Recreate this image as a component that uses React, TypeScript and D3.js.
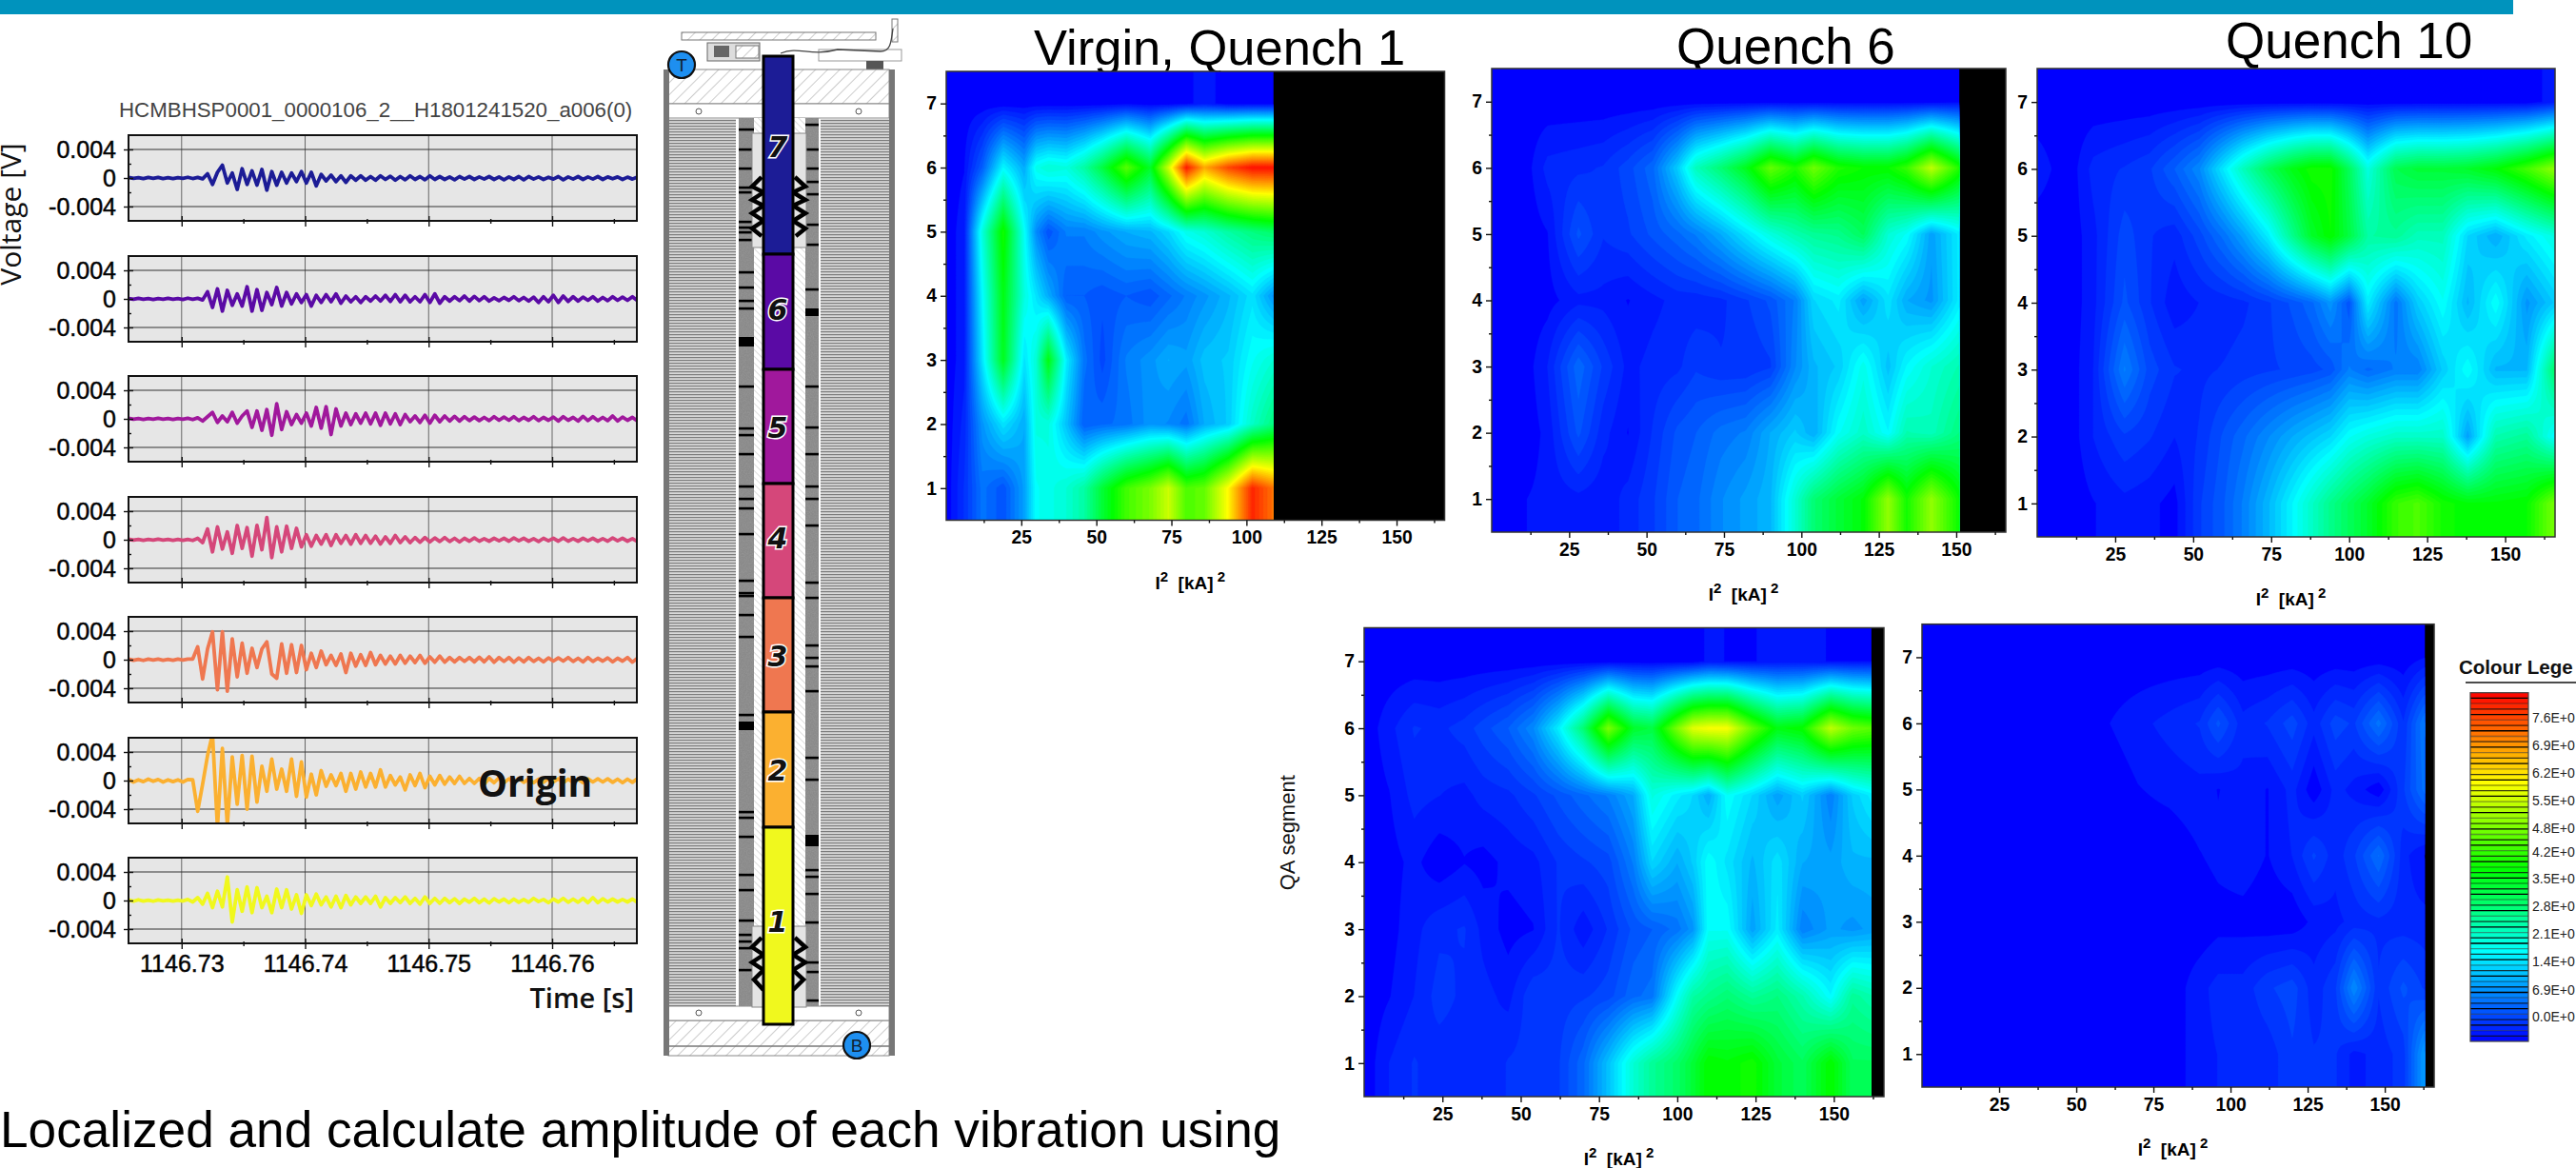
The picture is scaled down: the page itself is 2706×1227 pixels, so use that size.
import React, { useEffect, useMemo, useRef } from 'react';
import * as d3 from 'd3';

// ---- waveforms: voltage in mV, one sample every 0.4 ms from timeStart ----
const timeStart = 1146.7257;
const timeEnd = 1146.76686;
const timeStep = 0.0004;
const timeTicks = [1146.73, 1146.74, 1146.75, 1146.76];
const timeMinorTicks = [1146.735, 1146.745, 1146.755, 1146.765];
const voltTicks = [0.004, 0, -0.004];
const voltMinorTicks = [0.002, -0.002];

const wave7 = [
  .08,-.06,.05,-.09,.07,-.05,.09,-.07,.04,-.08,.06,-.04,.1,-.07,.08,-.12,
  .6,-.9,.8,1.8,-.7,.7,-1.6,1.3,-.9,1.0,-1.0,1.2,-1.7,.9,-1.0,.8,
  -.7,.7,-.5,.9,-.7,.8,-1.1,.5,-.4,.4,-.5,.3,-.6,.3,-.3,.3,
  -.3,.2,-.3,.3,-.2,.25,-.3,.2,-.25,.3,-.2,.2,-.25,.3,-.2,.2,
  -.2,.15,-.25,.2,-.15,.2,-.2,.15,-.15,.2,-.2,.15,-.25,.15,-.2,.2,
  -.25,.2,-.15,.15,-.2,.1,-.15,.2,-.25,.15,-.15,.2,-.2,.15,-.15,.2,
  -.2,.15,-.1,.15,-.2,.12,-.15,.15,-.1,.18,-.15,.12,-.18,.12,-.1,.15,
  -.15,.1,-.18,.15,-.12,.1,-.15,.2,-.12,.1,-.15,.18,-.1,.12,-.15,.1,
];
const wave6 = [
  .06,-.05,.08,-.06,.05,-.07,.06,-.05,.09,-.06,.05,-.08,.1,-.06,.08,-.15,
  1.0,-1.2,1.4,-1.7,1.2,-.9,.7,-1.0,1.7,-1.7,1.3,-1.6,.9,-.8,1.6,-1.0,
  .9,-.7,.7,-.5,.6,-1.0,.5,-.5,.6,-.4,.7,-.6,.4,-.4,.3,-.5,
  .3,-.3,.4,-.3,.5,-.35,.6,-.4,.5,-.4,.3,-.4,.6,-.5,.7,-.6,
  .3,-.3,.3,-.25,.4,-.3,.35,-.25,.3,-.3,.15,-.25,.2,-.2,.3,-.25,
  .2,-.3,.25,-.5,.3,-.4,.5,-.5,.4,-.35,.3,-.3,.25,-.2,.3,-.3,
  .2,-.25,.3,-.2,.25,-.2,.3,-.25,.15,-.25,.2,-.15,.25,-.2,.15,-.2,
  .2,-.15,.25,-.2,.15,-.2,.2,-.15,.15,-.2,.2,-.15,.12,-.15,.2,-.12,
];
const wave5 = [
  .08,-.06,.05,-.07,.06,-.05,.07,-.06,.05,-.08,.06,-.05,.08,-.1,.15,-.3,
  .3,.9,-.5,.4,-.4,.9,-.6,.4,1.1,-1.2,1.1,-1.6,1.3,-2.3,2.1,-1.5,
  1.0,-.8,.6,-.6,.8,-1.0,1.6,-1.3,1.7,-2.2,1.4,-1.0,.8,-.8,.7,-.6,
  .8,-.7,.8,-.9,.8,-.7,.7,-.8,.6,-.4,.4,-.5,.5,-.6,.5,-.4,
  .4,-.3,.35,-.3,.3,-.25,.25,-.25,.2,-.25,.3,-.2,.25,-.2,.3,-.25,
  .2,-.2,.3,-.25,.2,-.2,.25,-.3,.3,-.2,.2,-.3,.35,-.25,.3,-.25,
  .2,-.25,.4,-.3,.25,-.2,.2,-.3,.3,-.3,.25,-.25,.2,-.2,.3,-.25,
  .2,-.25,.3,-.2,.15,-.2,.2,-.25,.3,-.15,.15,-.2,.3,-.3,.3,-.25,
];
const wave4 = [
  .07,-.06,.06,-.08,.05,-.06,.08,-.05,.06,-.07,.05,-.08,.06,-.1,.2,-.4,
  1.5,-1.7,1.8,-1.3,1.1,-1.9,2.0,-1.2,1.7,-2.3,2.0,-1.4,3.1,-2.5,1.8,-1.7,
  1.9,-1.2,1.6,-1.0,.7,-.9,.6,-.6,.7,-.8,.7,-.5,.6,-.6,.7,-.5,
  .6,-.5,.5,-.6,.4,-.5,.6,-.4,.4,-.4,.3,-.35,.3,-.3,.25,-.25,
  .3,-.25,.2,-.3,.2,-.2,.25,-.2,.15,-.2,.2,-.15,.2,-.2,.25,-.15,
  .2,-.2,.15,-.25,.2,-.15,.2,-.2,.25,-.2,.15,-.2,.2,-.15,.2,-.2,
  .15,-.2,.25,-.15,.2,-.2,.15,-.25,.2,-.15,.15,-.2,.25,-.2,.15,-.15,
  .2,-.15,.2,-.25,.15,-.2,.2,-.15,.15,-.2,.25,-.15,.2,-.2,.15,-.15,
];
const wave3 = [
  .1,-.08,.06,-.1,.08,-.06,.09,-.07,.05,-.09,.07,-.06,.08,.1,1.8,-2.7,
  1.5,3.9,-4.2,3.9,-4.4,2.9,-2.4,2.3,-1.9,1.6,-1.1,1.5,2.5,-2.0,-2.6,2.2,
  -1.9,2.1,-1.8,2.0,-1.4,.9,-1.1,1.2,-.7,.6,-.8,.8,-1.8,.9,-.9,.7,
  -.8,1.0,-.7,.6,-.6,.5,-.6,.6,-.5,.5,-.4,.6,-.5,.4,-.35,.5,
  -.35,.3,-.3,.3,-.25,.3,-.3,.35,-.3,.4,-.35,.3,-.25,.3,-.35,.25,
  -.3,.3,-.25,.2,-.3,.25,-.2,.25,-.2,.3,-.25,.2,-.3,.3,-.25,.2,
  -.2,.25,-.3,.2,-.2,.3,-.35,.2,-.2,.25,-.2,.2,-.25,.3,-.2,.2,
  -.2,.25,-.2,.2,-.25,.3,-.2,.25,-.2,.35,-.3,.2,-.25,.3,-.25,.2,
];
const wave2 = [
  .15,-.2,.1,-.15,.2,-.1,.15,-.2,.1,-.15,.1,-.2,.15,.1,-4.3,-.5,
  3.5,6.5,-6.5,4.5,-6.2,3.3,-3.3,3.5,-4.0,3.4,-3.0,2.0,-1.5,3.0,-1.2,1.6,
  -1.5,3.0,-2.2,2.6,-2.3,.9,-2.0,1.4,-.8,.8,-.7,1.0,-1.5,1.0,-1.2,1.2,
  -.9,1.0,-.9,1.5,-.9,.7,-.6,.5,-1.3,.8,-.7,1.0,-1.0,.6,-.6,.7,
  -.5,.5,-.4,.6,-.4,.3,-.4,.3,-.5,.3,-.3,.4,-.3,.25,-.3,.3,
  -.25,.25,-.3,.2,-.25,.3,-.2,.25,-.3,.2,-.25,.2,-.3,.25,-.2,.25,
  -.2,.25,-.25,.2,-.3,.2,-.25,.25,-.2,.3,-.25,.2,-.2,.25,-.2,.2,
  -.25,.2,-.2,.25,-.25,.2,-.2,.3,-.25,.2,-.2,.25,-.3,.2,-.2,.25,
];
const wave1 = [
  .08,-.1,.1,-.08,.06,-.1,.08,-.06,.05,-.08,.06,-.07,.15,-.2,.4,-.5,
  1.0,-1.0,1.3,-.9,3.3,-3.0,1.5,-1.5,1.9,-1.7,1.8,-1.0,.6,-1.7,1.6,-1.0,
  1.5,-1.2,.8,-1.8,.8,-.7,.9,-.6,.5,-.9,.6,-1.0,.7,-.6,.5,-.4,
  .5,-.4,.6,-.9,.4,-.4,.4,-.3,.5,-.4,.3,-.5,.5,-.4,.3,-.4,
  .3,-.3,.25,-.4,.2,-.25,.3,-.3,.2,-.35,.25,-.2,.2,-.3,.2,-.25,
  .15,-.25,.3,-.15,.15,-.3,.2,-.2,.3,-.25,.2,-.25,.3,-.3,.4,-.3,
  .25,-.2,.2,-.2,.15,-.2,.2,-.25,.25,-.2,.2,-.15,.15,-.2,.2,-.15,
  .15,-.2,.2,-.15,.2,-.25,.15,-.15,.2,-.2,.15,-.15,.2,-.15,.12,-.15,
];
const waves = [wave7, wave6, wave5, wave4, wave3, wave2, wave1];
const segmentColors = ['#1c1c96', '#5a0aa5', '#a0189c', '#d5477a', '#ef7750', '#fbb030', '#f0f81e'];
const segmentLabels = ['7', '6', '5', '4', '3', '2', '1'];

// ---- heat maps: colour legend units, rows are QA segment 1..7 ----
const q1Cols = [0, 6, 12, 19, 26, 30, 34, 40, 46, 52, 60, 68, 74, 80, 86, 94, 102, 109];
const q1Rows = [
  [-.6,-.2,.4,.1,.8,1.7,1.8,2.0,2.4,3.3,4.3,4.8,5.5,4.4,4.6,6.0,7.9,7.2],
  [-.6,-.3,.7,1.4,.9,1.9,1.9,1.1,.2,.3,.4,.7,.6,.4,.9,1.2,2.1,2.7],
  [-.6,-.4,1.4,3.5,1.4,2.0,3.6,1.5,.4,0,.5,.7,.9,.8,1.1,1.2,1.7,2.0],
  [-.6,-.4,1.6,3.6,1.9,1.4,.9,.2,.2,.1,.2,.1,.3,.5,.7,1.0,1.4,.7],
  [-.6,-.4,1.9,3.9,1.7,.6,.1,.5,.5,.7,.9,1.0,1.3,1.8,2.0,2.4,2.7,2.9],
  [-.6,-.5,.2,1.6,.9,1.8,2.0,1.9,2.4,3.2,4.5,3.4,5.5,8.0,6.7,7.6,8.1,8.1],
  [-.6,-.6,-.6,-.6,-.6,-.6,-.6,-.6,-.6,-.6,-.55,-.6,-.6,-.55,-.4,-.6,-.6,-.6],
];
const q6Cols = [0, 10, 18, 28, 36, 44, 52, 60, 66, 74, 82, 90, 98, 104, 112, 120, 128, 134, 142, 151];
const q6Rows = [
  [-.6,-.5,-.45,-.4,-.45,-.3,-.1,.2,.3,.6,.8,1.0,2.0,2.8,3.3,3.7,5.0,3.9,5.0,3.8],
  [-.6,-.6,-.45,.1,-.3,-.5,-.2,.1,.2,.4,.5,.9,1.2,.9,1.7,2.1,1.6,2.3,2.2,2.7],
  [-.6,-.6,-.35,.3,-.1,-.4,-.3,-.25,-.1,-.2,-.2,-.1,.6,1.0,1.2,1.8,1.1,1.6,2.0,2.3],
  [-.6,-.6,-.55,-.4,-.4,-.5,-.4,-.3,-.3,-.25,-.1,.1,.5,1.3,1.5,.8,1.4,.9,.7,1.5],
  [-.6,-.6,-.5,.1,-.2,-.1,.1,.3,.5,.9,1.4,1.9,2.3,2.5,2.6,3.0,2.0,1.7,.8,1.5],
  [-.6,-.6,-.3,-.25,-.2,0,.3,1.2,2.2,2.8,3.5,4.6,4.0,4.7,4.0,3.8,3.8,4.2,5.4,4.0],
  [-.6,-.6,-.6,-.6,-.6,-.6,-.6,-.6,-.6,-.6,-.6,-.6,-.6,-.6,-.6,-.6,-.6,-.6,-.6,-.55],
];
const q10Cols = [0, 10, 18, 28, 36, 44, 52, 60, 66, 74, 82, 88, 94, 100, 106, 115, 122, 130, 138, 147, 157, 166];
const q10Rows = [
  [-.6,-.6,-.5,-.4,-.45,-.55,-.1,.2,.5,1.0,1.6,2.1,2.6,3.0,3.4,4.2,4.4,3.9,3.7,3.7,3.8,4.8],
  [-.6,-.6,-.35,-.1,-.2,-.35,-.2,.1,.3,.6,.9,1.1,1.3,1.7,1.9,2.1,2.1,2.1,.8,2.3,2.5,1.6],
  [-.6,-.6,-.35,.5,0,-.2,-.25,-.2,-.15,-.1,-.05,0,.1,.5,.3,.5,.5,1.2,1.7,1.0,1.0,2.9],
  [-.6,-.6,-.4,.1,-.2,-.45,-.35,-.3,-.25,-.1,.1,.3,.7,.1,1.5,.4,1.2,1.7,1.0,1.7,.7,1.2],
  [-.6,-.6,-.4,0,-.2,-.3,0,.4,.8,1.5,2.6,3.4,3.8,3.2,2.4,2.5,2.2,2.2,1.3,.9,1.5,1.9],
  [-.4,-.6,-.3,-.2,-.1,.2,.6,1.5,2.2,3.0,3.6,3.9,3.9,3.0,1.9,3.1,3.3,3.3,3.4,3.7,4.3,5.0],
  [-.6,-.6,-.6,-.6,-.6,-.6,-.6,-.6,-.6,-.6,-.6,-.6,-.6,-.6,-.6,-.6,-.6,-.6,-.6,-.6,-.6,-.4],
];
const q4Cols = [0, 8, 16, 24, 32, 38, 46, 54, 62, 70, 78, 86, 92, 100, 105, 110, 116, 124, 132, 140, 149, 156, 162];
const q4Rows = [
  [-.6,-.35,-.2,-.3,-.3,-.35,-.2,-.15,-.1,.3,1.1,2.0,2.5,2.9,3.3,3.8,3.7,3.9,3.3,3.0,3.8,3.0,3.0],
  [-.6,-.5,-.35,-.15,-.25,-.3,-.4,-.1,-.15,-.1,0,.3,.4,1.7,2.4,2.6,2.8,2.5,2.7,2.3,1.6,2.5,2.3],
  [-.6,-.55,-.4,-.25,-.2,-.4,-.55,-.5,-.2,-.45,-.2,.1,.2,.4,.7,1.7,1.7,.8,1.5,.5,.8,.7,.8],
  [-.6,-.55,-.45,-.6,-.5,-.55,-.45,-.4,-.2,-.1,0,.5,1.3,.9,1.2,1.7,1.4,1.0,1.4,.9,.8,1.0,1.0],
  [-.6,-.5,-.3,-.35,-.4,-.3,-.25,-.1,.1,.3,.5,.9,1.9,1.5,1.3,.9,1.7,1.3,.8,1.2,.5,1.2,1.5],
  [-.6,-.4,-.2,-.25,-.15,0,.2,.6,1.5,2.8,4.8,3.4,3.2,4.8,5.7,5.9,5.9,4.6,3.6,3.8,5.4,4.7,4.5],
  [-.6,-.6,-.6,-.6,-.6,-.6,-.6,-.6,-.6,-.6,-.6,-.6,-.6,-.6,-.6,-.45,-.5,-.5,-.45,-.45,-.5,-.5,-.5],
];
const q5Cols = [0, 60, 70, 80, 90, 96, 104, 112, 120, 127, 134, 140, 148, 156, 163];
const q5Rows = [
  [-.6,-.6,-.6,-.6,-.4,-.35,-.35,-.3,-.1,-.2,-.2,-.4,-.3,-.15,.8],
  [-.6,-.6,-.6,-.6,-.4,-.3,-.3,-.1,0,-.3,-.1,.6,-.2,.1,-.1],
  [-.6,-.6,-.6,-.6,-.6,-.55,-.55,-.6,-.6,-.45,-.4,-.3,-.25,-.3,-.3],
  [-.6,-.6,-.6,-.6,-.5,-.45,-.4,-.5,-.35,-.05,-.3,-.1,.35,-.3,-.5],
  [-.6,-.6,-.5,-.45,-.4,-.5,-.4,-.5,-.3,-.6,-.3,-.4,-.6,-.1,.4],
  [-.6,-.5,-.4,-.3,-.2,.1,-.3,-.2,0,-.3,0,-.1,.4,-.2,.5],
  [-.6,-.6,-.6,-.6,-.6,-.6,-.6,-.6,-.6,-.6,-.6,-.6,-.6,-.6,-.5],
];
const currentMax = 166;
const currentTicks = [25, 50, 75, 100, 125, 150];
const currentMinorTicks = [12.5, 37.5, 62.5, 87.5, 112.5, 137.5, 162.5];
const segmentTicks = [1, 2, 3, 4, 5, 6, 7];
const segmentMinorTicks = [1.5, 2.5, 3.5, 4.5, 5.5, 6.5];

// ---- legend ----
const legendValues = [7.6, 6.9, 6.2, 5.5, 4.8, 4.2, 3.5, 2.8, 2.1, 1.4, 0.69, 0];
const legendLabels = ['7.6E+0', '6.9E+0', '6.2E+0', '5.5E+0', '4.8E+0', '4.2E+0', '3.5E+0', '2.8E+0', '2.1E+0', '1.4E+0', '6.9E+0', '0.0E+0'];
const legendMin = -0.63;
const legendMax = 8.24;
const legendBands = 64;
const rainbow = d3.scaleLinear<string>()
  .domain([legendMin, 1.65, 3.75, 5.95, legendMax])
  .range(['#0000ff', '#00ffff', '#00ff00', '#ffff00', '#ff0000'])
  .clamp(true);
const bandEdges = d3.range(legendBands).map(i => legendMin + i * (legendMax - legendMin) / legendBands);
const bandSize = (legendMax - legendMin) / legendBands;

// ---- magnet drawing, heights of the parts ----
const segmentEdges = [59, 267, 388, 508, 628, 748, 869, 1076];
const segmentLabelY = [154, 325, 449, 565, 689, 809, 968];
const leftCollarMarks = [136,157,177,197,202,233,239,244,252,286,302,316,324,361,406,450,457,477,511,524,534,561,610,623,626,646,669,751,763,853,859,879,919,935,967,982,989,996,1019];
const rightCollarMarks = [131,157,177,191,204,236,257,304,329,406,449,477,511,524,552,612,628,678,691,700,726,796,819,884,914,921,939,969,1011,1021,1051];

const SANS = '"Liberation Sans", Arial, sans-serif';
const OPEN = '"Open Sans", sans-serif';

const Axis = ({ make, transform, font, size, weight, heavy }: any) => {
  const ref = useRef<SVGGElement>(null);
  useEffect(() => {
    const g = d3.select(ref.current);
    g.call(make);
    g.select('.domain').remove();
    g.attr('font-family', font || SANS).attr('font-size', size || 10).attr('font-weight', weight || 'normal');
    g.selectAll('line').attr('stroke', '#111').attr('stroke-width', 1.4);
    if (heavy) g.selectAll('text').attr('stroke', '#111').attr('stroke-width', heavy);
  }, []);
  return <g ref={ref} transform={transform} />;
};

const WavePanel = ({ values, color, top, last, id }: any) => {
  const left = 135, right = 669, height = 90;
  const x = d3.scaleLinear().domain([timeStart, timeEnd]).range([left, right]);
  const y = d3.scaleLinear().domain([-0.006, 0.006]).range([top + height, top]);
  const line = d3.line<number>()
    .x((_, i) => x(timeStart + i * timeStep))
    .y(d => y(d / 1000));
  const tickStyle = { font: SANS, size: 25, weight: 'normal', heavy: 0.5 };
  return (
    <g>
      <clipPath id={id}><rect x={left} y={top} width={right - left} height={height} /></clipPath>
      <rect x={left} y={top} width={right - left} height={height} fill="#e6e6e6" />
      {timeTicks.map(t => <line key={t} x1={x(t)} x2={x(t)} y1={top} y2={top + height} stroke="#666" strokeWidth={1} />)}
      {voltTicks.filter(v => v !== 0).map(v => <line key={v} x1={left} x2={right} y1={y(v)} y2={y(v)} stroke="#333" strokeWidth={1} />)}
      <path d={line(values) || ''} fill="none" stroke={color} strokeWidth={3.8} strokeLinejoin="round" clipPath={`url(#${id})`} />
      <rect x={left} y={top} width={right - left} height={height} fill="none" stroke="#111" strokeWidth={2} />
      <Axis {...tickStyle} transform={`translate(${left},0)`}
        make={d3.axisLeft(y).tickValues(voltTicks).tickSize(5).tickPadding(8).tickFormat(d => (+d === 0 ? '0' : (+d).toFixed(3)))} />
      <Axis transform={`translate(${left},0)`} make={d3.axisRight(y).tickValues(voltTicks).tickSize(5).tickFormat(() => '')} />
      <Axis transform={`translate(${left},0)`} make={d3.axisRight(y).tickValues(voltMinorTicks).tickSize(3).tickFormat(() => '')} />
      <Axis {...tickStyle} transform={`translate(0,${top + height})`}
        make={d3.axisBottom(x).tickValues(timeTicks).tickSize(6).tickPadding(6).tickFormat(d => (last ? (+d).toFixed(2) : ''))} />
      <Axis transform={`translate(0,${top + height})`} make={d3.axisTop(x).tickValues(timeTicks).tickSize(5).tickFormat(() => '')} />
      <Axis transform={`translate(0,${top + height})`} make={d3.axisBottom(x).tickValues(timeMinorTicks).tickSize(3).tickFormat(() => '')} />
      <Axis transform={`translate(0,${top + height})`} make={d3.axisTop(x).tickValues(timeMinorTicks).tickSize(2).tickFormat(() => '')} />
    </g>
  );
};

// bilinear lookup in the hand read table, rows held flat beyond segment 1 and 7
const lookup = (cols: number[], rows: number[][], xv: number, yv: number) => {
  const r = Math.min(7, Math.max(1, yv)) - 1;
  const r0 = Math.min(5, Math.floor(r));
  const fr = r - r0;
  let c = d3.bisectRight(cols, xv) - 1;
  c = Math.max(0, Math.min(cols.length - 2, c));
  const fc = Math.min(1, (xv - cols[c]) / (cols[c + 1] - cols[c]));
  const a = rows[r0][c] * (1 - fc) + rows[r0][c + 1] * fc;
  const b = rows[r0 + 1][c] * (1 - fc) + rows[r0 + 1][c + 1] * fc;
  return a * (1 - fr) + b * fr;
};

const HeatPanel = ({ cols, rows, left, right, top, bottom, id, yTitle }: any) => {
  const end = cols[cols.length - 1];
  const x = d3.scaleLinear().domain([0, currentMax]).range([left, right]);
  const y = d3.scaleLinear().domain([0.5, 7.5]).range([bottom, top]);
  const bands = useMemo(() => {
    const nx = Math.round(end * 2) + 1;
    const ny = 113;
    const values: number[] = [];
    for (let j = 0; j < ny; j++) {
      for (let i = 0; i < nx; i++) {
        values.push(lookup(cols, rows, (i / (nx - 1)) * end, 7.5 - (j / (ny - 1)) * 7));
      }
    }
    const project = d3.geoTransform({
      point(px, py) {
        this.stream.point(x(((px - 0.5) / (nx - 1)) * end), y(7.5 - ((py - 0.5) / (ny - 1)) * 7));
      },
    });
    const path = d3.geoPath(project);
    return d3.contours().size([nx, ny]).thresholds(bandEdges.slice(1))(values)
      .map(c => ({ d: path(c as any) || '', fill: rainbow(c.value + bandSize / 2) }));
  }, []);
  const titleX = (left + right) / 2 - 5.5;
  return (
    <g>
      <clipPath id={id}><rect x={left} y={top} width={x(end) - left} height={bottom - top} /></clipPath>
      <rect x={left} y={top} width={right - left} height={bottom - top} fill="#000" />
      <rect x={left} y={top} width={x(end) - left} height={bottom - top} fill="#0000ff" />
      <g clipPath={`url(#${id})`}>
        {bands.map((b, i) => <path key={i} d={b.d} fill={b.fill} stroke={b.fill} strokeWidth={0.3} />)}
      </g>
      <rect x={left} y={top} width={right - left} height={bottom - top} fill="none" stroke="#333" strokeWidth={1.5} />
      <Axis size={19.3} weight="bold" transform={`translate(0,${bottom})`}
        make={d3.axisBottom(x).tickValues(currentTicks).tickSize(6).tickPadding(5)} />
      <Axis transform={`translate(0,${bottom})`} make={d3.axisBottom(x).tickValues(currentMinorTicks).tickSize(3).tickFormat(() => '')} />
      <Axis size={19.3} weight="bold" transform={`translate(${left},0)`}
        make={d3.axisLeft(y).tickValues(segmentTicks).tickSize(6).tickPadding(4).tickFormat(d3.format('d'))} />
      <Axis transform={`translate(${left},0)`} make={d3.axisLeft(y).tickValues(segmentMinorTicks).tickSize(3).tickFormat(() => '')} />
      <text x={titleX} y={bottom + 72} textAnchor="middle" fontFamily={SANS} fontWeight="bold" fontSize={19} xmlSpace="preserve">
        I<tspan dy={-8} fontSize={15}>2</tspan><tspan dy={8}>  [kA]</tspan><tspan dy={-8} fontSize={15}> 2</tspan>
      </text>
      {yTitle && (
        <text transform={`translate(${left - 73},${(top + bottom) / 2 - 31}) rotate(-90)`} textAnchor="middle" fontFamily={SANS} fontSize={22} fill="#111">{yTitle}</text>
      )}
    </g>
  );
};

const Legend = () => {
  const y = d3.scaleLinear().domain([legendMin, legendMax]).range([1094, 727.7]);
  const left = 2595, right = 2656;
  return (
    <g fontFamily={SANS}>
      <text x={2583} y={708} fontSize={20.5} fontWeight="bold" fill="#111">Colour Lege</text>
      <line x1={2590} x2={2706} y1={717} y2={717} stroke="#111" strokeWidth={1.5} />
      {bandEdges.map((v, i) => (
        <g key={i}>
          <rect x={left} width={right - left} y={y(v + bandSize)} height={y(v) - y(v + bandSize)} fill={rainbow(v + bandSize / 2)} />
          {i > 0 && <line x1={left} x2={right} y1={y(v)} y2={y(v)} stroke="#000" strokeOpacity={[1, 0.75, 0.4][i % 3]} strokeWidth={1.3} />}
        </g>
      ))}
      <rect x={left} y={727.7} width={right - left} height={366.3} fill="none" stroke="#444" strokeWidth={1.2} />
      {legendValues.map((v, i) => (
        <text key={i} x={2660} y={y(v)} dy="0.36em" fontSize={14} fill="#222">{legendLabels[i]}</text>
      ))}
    </g>
  );
};

const Magnet = () => {
  const colLeft = 802, colRight = 833;
  const wall = { top: 73, bottom: 1109 };
  const stackTop = 124, stackBottom = 1057;
  return (
    <g>
      <defs>
        <pattern id="lam" width="4" height="3" patternUnits="userSpaceOnUse">
          <rect width="4" height="3" fill="#d8d8d8" />
          <rect width="4" height="1.2" fill="#7c7c7c" />
        </pattern>
        <pattern id="hatch" width="9" height="9" patternUnits="userSpaceOnUse" patternTransform="rotate(45)">
          <rect width="9" height="9" fill="#fff" />
          <line x1="0" x2="0" y1="0" y2="9" stroke="#aaa" strokeWidth="1.2" />
        </pattern>
        <pattern id="hatchFine" width="5" height="5" patternUnits="userSpaceOnUse" patternTransform="rotate(-45)">
          <rect width="5" height="5" fill="#fff" />
          <line x1="0" x2="0" y1="0" y2="5" stroke="#bbb" strokeWidth="1" />
        </pattern>
        <filter id="grain"><feTurbulence type="fractalNoise" baseFrequency="0.7" numOctaves="2" seed="3" /><feColorMatrix values="0 0 0 0 0.3  0 0 0 0 0.3  0 0 0 0 0.3  0 0 0 1.6 -0.5" /><feComposite in2="SourceGraphic" operator="in" /><feMerge><feMergeNode in="SourceGraphic" /><feMergeNode /></feMerge></filter>
      </defs>
      {/* top plate and feed */}
      <rect x={716} y={34} width={204} height={8} fill="url(#hatch)" stroke="#777" />
      <rect x={743} y={45} width={55} height={19} fill="#ddd" stroke="#666" />
      <rect x={750} y={48} width={16} height={12} fill="#666" />
      <rect x={773} y={48} width={24} height={13} fill="url(#hatch)" stroke="#777" />
      <rect x={860} y={52} width={87} height={12} fill="#fff" stroke="#999" />
      <rect x={937} y={20} width={6} height={24} fill="url(#hatch)" stroke="#777" />
      <path d="M820,56 C840,48 850,60 880,52 L925,54 C935,54 936,46 938,30" fill="none" stroke="#444" strokeWidth={1.3} />
      <rect x={910} y={64} width={18} height={9} fill="#555" />
      {/* flanges */}
      <rect x={702} y={wall.top} width={232} height={36} fill="url(#hatch)" stroke="#888" />
      <rect x={702} y={1072} width={232} height={37} fill="url(#hatch)" stroke="#888" />
      <line x1={702} x2={934} y1={1099} y2={1099} stroke="#777" strokeWidth={1.5} />
      <rect x={702} y={109} width={232} height={15} fill="#fff" stroke="#888" />
      <rect x={702} y={1057} width={232} height={15} fill="#fff" stroke="#888" />
      <circle cx={734} cy={117} r={3} fill="none" stroke="#555" />
      <circle cx={902} cy={117} r={3} fill="none" stroke="#555" />
      <circle cx={734} cy={1064} r={3} fill="none" stroke="#555" />
      <circle cx={902} cy={1064} r={3} fill="none" stroke="#555" />
      {/* outer walls */}
      <rect x={697} y={wall.top} width={6} height={wall.bottom - wall.top} fill="#777" />
      <rect x={934} y={wall.top} width={6} height={wall.bottom - wall.top} fill="#777" />
      {/* laminations */}
      <rect x={703} y={stackTop} width={70} height={stackBottom - stackTop} fill="url(#lam)" />
      <rect x={862} y={stackTop} width={72} height={stackBottom - stackTop} fill="url(#lam)" />
      {/* collars */}
      <rect x={776} y={stackTop} width={16} height={stackBottom - stackTop} fill="#8a8a8a" filter="url(#grain)" />
      <rect x={846} y={stackTop} width={14} height={stackBottom - stackTop} fill="#8a8a8a" filter="url(#grain)" />
      {leftCollarMarks.map(m => <rect key={m} x={776} y={m - 1.2} width={16} height={2.6} fill="#000" />)}
      {rightCollarMarks.map(m => <rect key={m} x={846} y={m - 1.2} width={14} height={2.6} fill="#000" />)}
      <rect x={776} y={354} width={16} height={10} fill="#000" />
      <rect x={846} y={324} width={14} height={8} fill="#000" />
      <rect x={776} y={758} width={16} height={9} fill="#000" />
      <rect x={846} y={877} width={14} height={12} fill="#000" />
      {/* tube */}
      <rect x={792} y={stackTop} width={10} height={stackBottom - stackTop} fill="url(#hatchFine)" />
      <rect x={833} y={stackTop} width={13} height={stackBottom - stackTop} fill="url(#hatchFine)" />
      <rect x={790} y={140} width={12} height={120} fill="#e4e4e4" stroke="#888" />
      <rect x={833} y={140} width={14} height={120} fill="#e4e4e4" stroke="#888" />
      <rect x={790} y={973} width={12} height={85} fill="#e4e4e4" stroke="#888" />
      <rect x={833} y={973} width={14} height={85} fill="#e4e4e4" stroke="#888" />
      <path d="M800,186 L790,196 L802,202 L790,210 L802,216 L790,224 L802,232 L790,240 L800,248" fill="none" stroke="#000" strokeWidth={4.5} />
      <path d="M835,186 L846,196 L833,202 L846,210 L833,216 L846,224 L833,232 L846,240 L836,248" fill="none" stroke="#000" strokeWidth={4.5} />
      <path d="M800,985 L790,995 L802,1003 L790,1011 L802,1019 L792,1029 L802,1040" fill="none" stroke="#000" strokeWidth={4.5} />
      <path d="M835,985 L846,995 L833,1003 L846,1011 L833,1019 L844,1029 L833,1040" fill="none" stroke="#000" strokeWidth={4.5} />
      {/* segments */}
      {segmentColors.map((c, i) => (
        <rect key={c} x={colLeft} y={segmentEdges[i]} width={colRight - colLeft} height={segmentEdges[i + 1] - segmentEdges[i]} fill={c} stroke="#000" strokeWidth={3} />
      ))}
      {segmentLabels.map((s, i) => (
        <text key={s} x={817} y={segmentLabelY[i]} dy="0.36em" textAnchor="middle" fontFamily='"DejaVu Sans"' fontStyle="italic" fontWeight="bold" fontSize={30}
          fill="#111" stroke="#fff" strokeWidth={3} paintOrder="stroke">{s}</text>
      ))}
      {/* top and bottom markers */}
      <circle cx={716} cy={68} r={14} fill="#1e8ff0" stroke="#111" strokeWidth={2.2} />
      <text x={716} y={68} dy="0.36em" textAnchor="middle" fontFamily={SANS} fontSize={19} fill="#123">T</text>
      <circle cx={900} cy={1098} r={14} fill="#1e8ff0" stroke="#111" strokeWidth={2.2} />
      <text x={900} y={1098} dy="0.36em" textAnchor="middle" fontFamily={SANS} fontSize={19} fill="#123">B</text>
    </g>
  );
};

const waveTops = [142, 269, 395, 522, 648, 775, 901];

const App = () => (
  <svg width={2706} height={1227} style={{ position: 'absolute', left: 0, top: 0, background: '#fff', display: 'block' }}>
    <rect x={0} y={0} width={2640} height={15} fill="#0093bd" />

    <text x={125} y={123} fontFamily={SANS} fontSize={22.3} fill="#444">HCMBHSP0001_0000106_2__H1801241520_a006(0)</text>
    <text transform="translate(22,225) rotate(-90)" textAnchor="middle" fontFamily={OPEN} fontSize={30} fill="#111">Voltage [V]</text>
    {waves.map((w, i) => (
      <WavePanel key={i} id={`wave${i}`} values={w} color={segmentColors[i]} top={waveTops[i]} last={i === waves.length - 1} />
    ))}
    <text x={502} y={837} fontFamily={OPEN} fontWeight="bold" fontSize={39} fill="#111">Origin</text>
    <text x={666} y={1059} textAnchor="end" fontFamily={OPEN} fontWeight={600} fontSize={29} fill="#111">Time [s]</text>
    <text x={0} y={1205} fontFamily={SANS} fontSize={53.2} fill="#000">Localized and calculate amplitude of each vibration using</text>

    <Magnet />

    <text x={1086} y={68} fontFamily={SANS} fontSize={52.5} fill="#000">Virgin, Quench 1</text>
    <text x={1761} y={67} fontFamily={SANS} fontSize={53} fill="#000">Quench 6</text>
    <text x={2338} y={61} fontFamily={SANS} fontSize={53} fill="#000">Quench 10</text>

    <HeatPanel id="h1" cols={q1Cols} rows={q1Rows} left={994} right={1517.5} top={75} bottom={546.5} />
    <HeatPanel id="h2" cols={q6Cols} rows={q6Rows} left={1567} right={2107} top={72} bottom={559} />
    <HeatPanel id="h3" cols={q10Cols} rows={q10Rows} left={2140} right={2684} top={72} bottom={564} />
    <HeatPanel id="h4" cols={q4Cols} rows={q4Rows} left={1433} right={1979} top={659.5} bottom={1152} yTitle="QA segment" />
    <HeatPanel id="h5" cols={q5Cols} rows={q5Rows} left={2019} right={2557} top={655.7} bottom={1142} />

    <Legend />
  </svg>
);

export default App;
